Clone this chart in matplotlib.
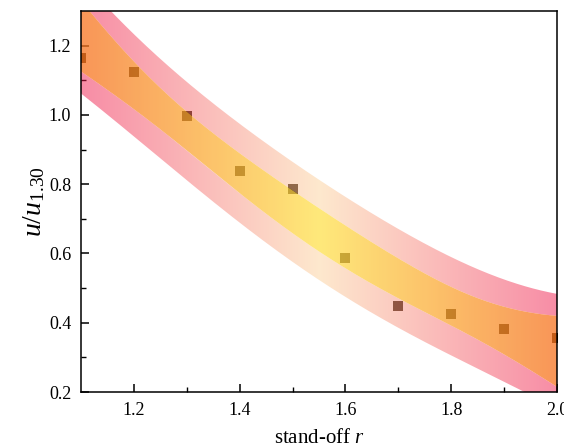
import numpy as np
import matplotlib
matplotlib.use("Agg")
import matplotlib.pyplot as plt
from matplotlib.colors import LinearSegmentedColormap
from matplotlib.patches import PathPatch
from matplotlib.path import Path

r = [1.1, 1.2, 1.3, 1.4, 1.5, 1.6, 1.7, 1.8, 1.9, 2.0]
u = [1.164, 1.124, 0.998, 0.838, 0.785, 0.588, 0.447, 0.426, 0.382, 0.356]

x_ticks = [1.2, 1.4, 1.6, 1.8, 2.0]
y_ticks = [0.2, 0.4, 0.6, 0.8, 1.0, 1.2]

plt.rcParams['font.family'] = ['Liberation Serif', 'DejaVu Serif']
plt.rcParams['mathtext.fontset'] = 'custom'
plt.rcParams['mathtext.rm'] = 'Liberation Serif'
plt.rcParams['mathtext.it'] = 'Liberation Serif:italic'


def quad_fit_bands(x, y, xs, t_crit=2.3646):
    # quadratic fit with 95% confidence and prediction bands (df = n - 3)
    x = np.asarray(x)
    y = np.asarray(y)
    X = np.column_stack([x**2, x, np.ones_like(x)])
    coef, *_ = np.linalg.lstsq(X, y, rcond=None)
    resid = y - X @ coef
    s2 = resid @ resid / (len(x) - 3)
    inv = np.linalg.inv(X.T @ X)
    Xs = np.column_stack([xs**2, xs, np.ones_like(xs)])
    fit = Xs @ coef
    lev = np.einsum('ij,jk,ik->i', Xs, inv, Xs)
    conf = t_crit * np.sqrt(s2 * lev)
    pred = t_crit * np.sqrt(s2 * (1 + lev))
    return fit, conf, pred


def gradient_band(ax, xs, lo, hi, cmap, alpha, z):
    verts = np.column_stack([np.r_[xs, xs[::-1]], np.r_[lo, hi[::-1]]])
    patch = PathPatch(Path(verts), facecolor='none', edgecolor='none')
    ax.add_patch(patch)
    grad = np.linspace(0, 1, 256).reshape(1, -1)
    im = ax.imshow(grad, extent=[xs[0], xs[-1], lo.min() - 0.05, hi.max() + 0.05],
                   aspect='auto', cmap=cmap, alpha=alpha, zorder=z,
                   interpolation='bilinear', origin='lower')
    im.set_clip_path(patch)


outer_cmap = LinearSegmentedColormap.from_list(
    'outer', ['#f01a4c', '#fcd29c', '#f01a4c'])
inner_cmap = LinearSegmentedColormap.from_list(
    'inner', ['#f77320', '#ffe24e', '#f77320'])

fig = plt.figure(figsize=(5.64, 4.48), dpi=100)
ax = fig.add_axes([0.1436, 0.125, 0.844, 0.8504])

xs = np.linspace(r[0], r[-1], 300)
fit, conf, pred = quad_fit_bands(r, u, xs)

# points sit under the translucent bands
ax.plot(r, u, 's', color='#2a1604', markersize=7, markeredgewidth=0, zorder=1)

gradient_band(ax, xs, fit + conf, fit + pred, outer_cmap, 0.5, 2)
gradient_band(ax, xs, fit - pred, fit - conf, outer_cmap, 0.5, 2)
gradient_band(ax, xs, fit - conf, fit + conf, inner_cmap, 0.75, 3)

ax.set_xlim(1.1, 2.0)
ax.set_ylim(0.2, 1.3)
ax.set_xticks(x_ticks)
ax.set_yticks(y_ticks)
ax.set_xticks(np.arange(1.3, 2.0, 0.2), minor=True)
ax.set_yticks(np.arange(0.3, 1.3, 0.2), minor=True)
ax.set_xticklabels([f'{v:.1f}' for v in x_ticks])
ax.set_yticklabels([f'{v:.1f}' for v in y_ticks])
ax.tick_params(which='major', direction='in', length=6, width=1.1,
               labelsize=13, top=False, right=False, pad=7)
ax.tick_params(which='minor', direction='in', length=3.5, width=1.0,
               top=False, right=False)
for sp in ax.spines.values():
    sp.set_linewidth(1.1)
    sp.set_zorder(5)

ax.set_xlabel('stand-off $r$', fontsize=15)
ax.set_ylabel('$u/u_{\\mathrm{1.30}}$', fontsize=20)
ax.xaxis.set_label_coords(0.5, -0.096)
ax.yaxis.set_label_coords(-0.072, 0.5)

fig.savefig('out.png', dpi=100)
